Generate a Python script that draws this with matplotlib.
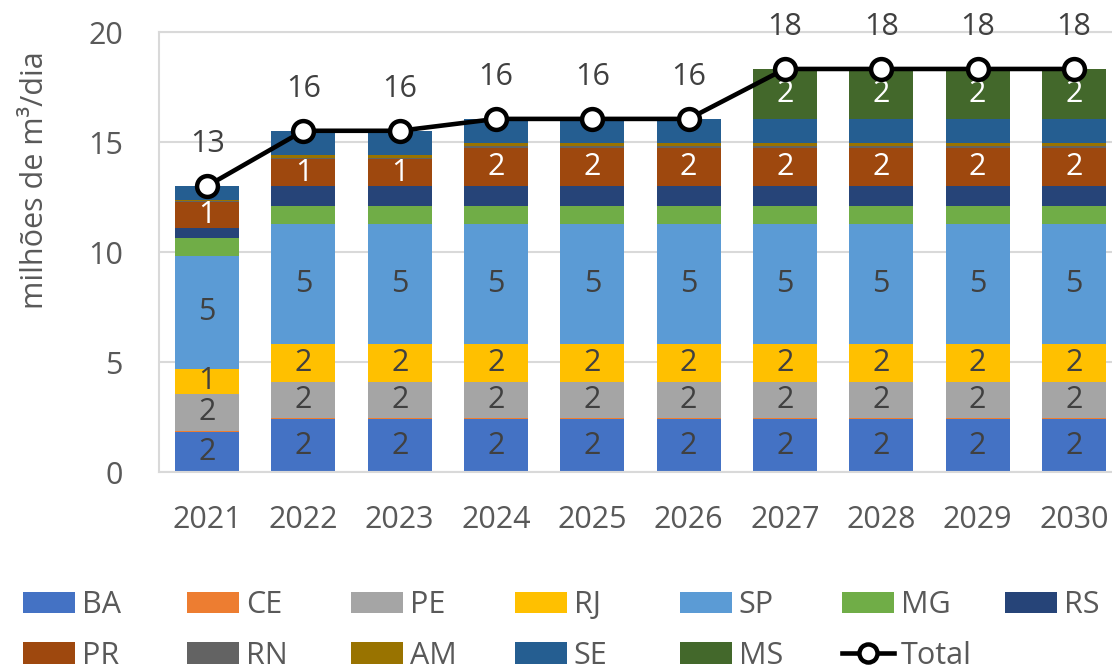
import matplotlib
matplotlib.use("Agg")
import matplotlib.pyplot as plt
import numpy as np
from matplotlib.lines import Line2D
from matplotlib.patches import Patch

years = ["2021", "2022", "2023", "2024", "2025", "2026", "2027", "2028", "2029", "2030"]
BA = [1.83, 2.40, 2.40, 2.40, 2.40, 2.40, 2.40, 2.40, 2.40, 2.40]
CE = [0.03, 0.05, 0.05, 0.05, 0.05, 0.05, 0.05, 0.05, 0.05, 0.05]
PE = [1.70, 1.65, 1.65, 1.65, 1.65, 1.65, 1.65, 1.65, 1.65, 1.65]
RJ = [1.14, 1.73, 1.73, 1.73, 1.73, 1.73, 1.73, 1.73, 1.73, 1.73]
SP = [5.10, 5.45, 5.45, 5.45, 5.45, 5.45, 5.45, 5.45, 5.45, 5.45]
MG = [0.82, 0.80, 0.80, 0.80, 0.80, 0.80, 0.80, 0.80, 0.80, 0.80]
RS = [0.45, 0.90, 0.90, 0.90, 0.90, 0.90, 0.90, 0.90, 0.90, 0.90]
PR = [1.20, 1.23, 1.23, 1.77, 1.77, 1.77, 1.77, 1.77, 1.77, 1.77]
RN = [0.04, 0.05, 0.05, 0.05, 0.05, 0.05, 0.05, 0.05, 0.05, 0.05]
AM = [0.06, 0.15, 0.15, 0.15, 0.15, 0.15, 0.15, 0.15, 0.15, 0.15]
SE = [0.63, 1.10, 1.10, 1.10, 1.10, 1.10, 1.10, 1.10, 1.10, 1.10]
MS = [0.00, 0.00, 0.00, 0.00, 0.00, 0.00, 2.27, 2.27, 2.27, 2.27]

series_names = ["BA", "CE", "PE", "RJ", "SP", "MG", "RS", "PR", "RN", "AM", "SE", "MS"]
series_vals = [BA, CE, PE, RJ, SP, MG, RS, PR, RN, AM, SE, MS]
colors = ["#4472C4", "#ED7D31", "#A5A5A5", "#FFC000", "#5B9BD5", "#70AD47",
          "#264478", "#9E480E", "#636363", "#997300", "#255E91", "#43682B"]
label_colors = {"BA": "#404040", "PE": "#404040", "RJ": "#404040", "SP": "#404040",
                "PR": "white", "MS": "white"}

plt.rcParams["font.family"] = ["Open Sans", "DejaVu Sans"]
FS = 22
TXT = "#595959"

W, H = 1112, 669
fig = plt.figure(figsize=(W / 100, H / 100), dpi=100)
ax = fig.add_axes([159 / W, (H - 472) / H, (1122 - 159) / W, 440 / H])

x = np.arange(len(years))
bottom = np.zeros(len(years))
for name, vals, col in zip(series_names, series_vals, colors):
    v = np.array(vals)
    ax.bar(x, v, 0.665, bottom=bottom, color=col, edgecolor="none", zorder=2)
    if name in label_colors:
        for xi, b, vi in zip(x, bottom, v):
            if vi > 0:
                ax.text(xi, b + vi / 2, f"{vi:.0f}", ha="center", va="center",
                        fontsize=FS, color=label_colors[name], zorder=3)
    bottom = bottom + v

total = bottom
ax.plot(x, total, color="black", lw=3.3, marker="o", ms=15, mfc="white",
        mec="black", mew=3.2, zorder=4)
for xi, t in zip(x, total):
    ax.text(xi, t + 1.9, f"{t:.0f}", ha="center", va="center", fontsize=FS,
            color="#404040", zorder=5)

ax.set_xlim(-0.5, 9.5)
ax.set_ylim(0, 20)
ax.set_yticks([0, 5, 10, 15, 20])
ax.set_xticks(x)
ax.set_xticklabels(years)
ax.tick_params(axis="both", length=0, labelsize=FS, colors=TXT)
ax.tick_params(axis="x", pad=24)
ax.tick_params(axis="y", pad=26)
ax.grid(axis="y", color="#D9D9D9", lw=1.5, zorder=0)
ax.set_axisbelow(True)
for s in ax.spines.values():
    s.set_color("#D9D9D9")
    s.set_linewidth(1.5)

fig.text(35 / W, 1 - 180 / H, "milhões de m³/dia", rotation=90, ha="center",
         va="center", fontsize=FS, color=TXT)

# legend: 7 columns of up to 2 rows
rows = [series_names[:7], series_names[7:] + ["Total"]]
col_x = [23, 187, 351, 515, 680, 842, 1005]
cmap = dict(zip(series_names, colors))
for ci, cx in enumerate(col_x):
    handles, labels = [], []
    for r in rows:
        if ci < len(r):
            nm = r[ci]
            if nm == "Total":
                handles.append(Line2D([], [], color="black", lw=3.3, marker="o",
                                      ms=13, mfc="white", mec="black", mew=3.2))
            else:
                handles.append(Patch(facecolor=cmap[nm], edgecolor="none"))
            labels.append(nm)
    leg = fig.legend(handles, labels, loc="upper left",
                     bbox_to_anchor=(cx / W, 1 - 590 / H), frameon=False,
                     fontsize=FS, handlelength=1.7, handleheight=0.7,
                     handletextpad=0.22, labelspacing=0.68, borderpad=0,
                     borderaxespad=0, labelcolor=TXT)

fig.savefig("out.png", dpi=100)
